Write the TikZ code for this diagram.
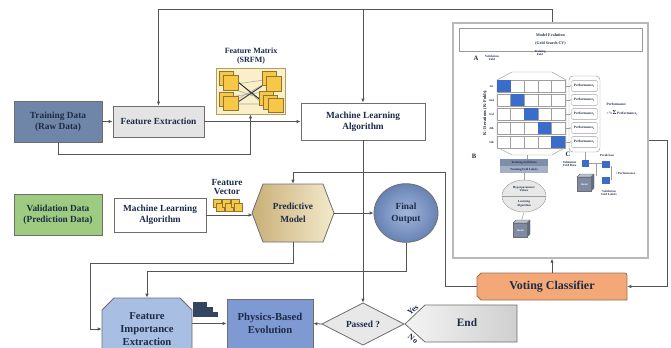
\documentclass[tikz,border=0pt]{standalone}
\usepackage{fontspec}
\setmainfont{Liberation Serif}
\usetikzlibrary{arrows.meta,calc,fit,shapes.geometric}

\definecolor{txt}{HTML}{1E2B47}
\definecolor{ln}{HTML}{555555}
\definecolor{boxedge}{HTML}{6E6E6E}
\definecolor{tdfill}{HTML}{7086A8}
\definecolor{fefill}{HTML}{E4E4E4}
\definecolor{vdfill}{HTML}{9DCB80}
\definecolor{pmdark}{HTML}{C9AF78}
\definecolor{pmlight}{HTML}{F3EACB}
\definecolor{fodark}{HTML}{6782B4}
\definecolor{folight}{HTML}{A2B6DA}
\definecolor{fifill}{HTML}{A8BFE3}
\definecolor{pbfill}{HTML}{7F9AD2}
\definecolor{vcfill}{HTML}{F5A877}
\definecolor{vcedge}{HTML}{9A6E4E}
\definecolor{dmfill}{HTML}{E8E8E8}
\definecolor{endl}{HTML}{F4F4F4}
\definecolor{endr}{HTML}{CFCFCF}
\definecolor{cellblue}{HTML}{3B6CC9}
\definecolor{cardfill}{HTML}{F6C846}
\definecolor{cardedge}{HTML}{8E7632}
\definecolor{fmbg}{HTML}{FBEFC9}
\definecolor{fmedge}{HTML}{B59D5F}
\definecolor{barcol}{HTML}{34465F}
\definecolor{tfdark}{HTML}{7D8DAA}
\definecolor{tflight}{HTML}{A3B0C6}
\definecolor{cubefront}{HTML}{7F8AA3}
\definecolor{cubetop}{HTML}{B8C0CF}
\definecolor{cubeside}{HTML}{5F6A84}

\newcommand{\lblfont}{\bfseries\fontsize{7}{8.4}\selectfont}
\newcommand{\midfont}{\bfseries\fontsize{8}{9.75}\selectfont}
\newcommand{\bigfont}{\bfseries\fontsize{9}{10}\selectfont}
\newcommand{\smfont}{\bfseries\fontsize{6}{6.2}\selectfont}
\newcommand{\tnyfont}{\bfseries\fontsize{2.3}{2.8}\selectfont}
\newcommand{\perffont}{\bfseries\fontsize{2.6}{3}\selectfont}
\newcommand{\secfont}{\bfseries\fontsize{5}{5}\selectfont}
\newcommand{\cubefont}{\bfseries\fontsize{1.9}{2}\selectfont}

% a small shaded cube labelled "Model": x, y (front top-left), size, name
\newcommand{\modelcube}[4]{%
  \draw[draw=boxedge, line width=0.3pt, fill=cubetop] (#1,#2) -- ++(3,-3) -- ++(#3,0) -- ++(-3,3) -- cycle;
  \draw[draw=boxedge, line width=0.3pt, fill=cubeside] ({#1+#3},#2) -- ++(3,-3) -- ++(0,#3) -- ++(-3,3) -- cycle;
  \node[draw=boxedge, line width=0.3pt, fill=cubefront, minimum size={#3*0.75pt}, inner sep=0pt,
        anchor=north west, font=\cubefont, text=white] (#4) at (#1,#2) {Model};
}

\begin{document}
\begin{tikzpicture}[x=0.75pt,y=-0.75pt,
  every node/.style={text=txt},
  conn/.style={draw=ln, line width=0.6pt},
  arr/.style={conn, -{Latex[length=3pt,width=2.6pt]}},
  fine/.style={draw=gray!75, line width=0.35pt},
  finearr/.style={fine, -{Latex[length=1pt,width=1pt]}},
  bx/.style={draw=boxedge, line width=0.6pt, inner sep=0pt},
  tx/.style={align=center, font=\lblfont, inner sep=0pt},
  card/.style={fill=cardfill, draw=cardedge, line width=0.3pt},
]
\useasboundingbox (0,0) rectangle (671,347);
\clip (0,0) rectangle (671,347);
\fill[white] (0,0) rectangle (671,347);

% ---------- upper row ----------
\node[bx, fill=tdfill, fit={(14,101)(102,142)}] (td) {};
\node[tx] (tdT) at (td.center) {Training Data\\(Raw Data)};
\node[bx, fill=fefill, fit={(113,106)(204,137)}] (fe) {};
\node[tx] (feT) at (fe.center) {Feature Extraction};
\node[bx, fill=white, fit={(301,103)(425,140)}] (mla) {};
\node[tx] (mlaT) at (mla.center) {Machine Learning\\Algorithm};

% feature matrix icon
\node[draw=fmedge, fill=fmbg, line width=0.6pt, inner sep=0pt, fit={(216,68)(285,114)}] (fm) {};
\node[font=\smfont, align=center] (fmlabel) at (251,56) {Feature Matrix\\(SRFM)};
\draw[draw=gray!70, line width=0.4pt] (236,80) -- (264,105) (236,84) -- (264,80) (236,100) -- (264,84)
  (236,104) -- (264,104) (236,90) -- (266,100) (236,96) -- (264,92);
\draw[draw=gray!40!black, line width=0.7pt] (238,82) -- (268,106) (238,102) -- (262,86);
\draw[card] (219,71) rectangle (233,85);
\draw[card] (223,75) rectangle (238,90);
\draw[card] (219,92) rectangle (233,106);
\draw[card] (223,96) rectangle (238,110);
\draw[card] (262,71) rectangle (276,85);
\draw[card] (266,76) rectangle (281,91);
\draw[card] (259,91) rectangle (273,105);
\draw[card] (263,95) rectangle (277,109);
\draw[card] (268,98) rectangle (283,112);

% ---------- middle row ----------
\node[bx, fill=vdfill, fit={(14,194)(102,235)}] (vd) {};
\node[tx] (vdT) at (vd.center) {Validation Data\\(Prediction Data)};
\node[bx, fill=white, fit={(114,198)(206,232)}] (mlb) {};
\node[tx] (mlbT) at (mlb.center) {Machine Learning\\Algorithm};

\node[font=\bfseries\fontsize{7}{6.6}\selectfont, align=center] (fvlabel) at (227,187) {Feature\\Vector};
\foreach \k in {0,1,2} {
  \draw[card] ({213+9*\k},199) rectangle ++(8,8);
  \draw[card] ({216+9*\k},203) rectangle ++(8,8);
}

% predictive model (hexagon)
\draw[draw=boxedge, line width=0.6pt, left color=pmdark, right color=pmlight]
  (252,213) -- (263,184) -- (323,184) -- (334,213) -- (323,242) -- (263,242) -- cycle;
\node[fit={(252,184)(334,242)}, inner sep=0pt] (pm) {};
\node[tx, font=\bfseries\fontsize{7}{9.5}\selectfont] (pmT) at (pm.center) {Predictive\\Model};

\node[ellipse, draw=boxedge, line width=0.6pt, inner color=folight, outer color=fodark,
      minimum width=48pt, minimum height=44pt, inner sep=0pt] (fo) at (406,213) {};
\node[tx, font=\bfseries\fontsize{7}{9}\selectfont] (foT) at (fo.center) {Final\\Output};

% ---------- lower row ----------
\draw[draw=boxedge, line width=0.6pt, fill=fifill]
  (102,310) -- (114,298) -- (180,298) -- (192,310) -- (192,350) -- (180,362) -- (114,362) -- (102,350) -- cycle;
\node[fit={(102,298)(192,360)}, inner sep=0pt] (fi) {};
\node[tx, font=\midfont] (fiT) at (fi.center) {Feature\\Importance\\Extraction};

\fill[barcol] (193,302) rectangle (207,306.5);
\fill[barcol] (193,307) rectangle (213,311.5);
\fill[barcol] (193,312) rectangle (218,316.5);

\node[bx, fill=pbfill, fit={(227,299)(313,348)}] (pb) {};
\node[tx, font=\midfont] (pbT) at (pb.center) {Physics-Based\\Evolution};

\draw[draw=boxedge, line width=0.6pt, fill=dmfill] (363,303) -- (404,324) -- (363,345) -- (322,324) -- cycle;
\node[fit={(322,303)(404,345)}, inner sep=0pt] (ps) {};
\node[tx] (psT) at (ps.center) {Passed ?};

\draw[draw=boxedge, line width=0.6pt, left color=endl, right color=endr]
  (405,324) -- (425,305) -- (517,305) -- (517,342) -- (425,342) -- cycle;
\node[fit={(405,305)(517,342)}, inner sep=0pt] (end) {};
\node[tx, font=\bfseries\fontsize{8.5}{9}\selectfont] (endT) at (467,323) {End};
\node[font=\bfseries\fontsize{6}{6}\selectfont, rotate=40, inner sep=0pt] (yes) at (413,310) {Yes};
\node[font=\bfseries\fontsize{6}{6}\selectfont, rotate=-40, inner sep=0pt] (no) at (413,339) {N\kern0.6pt o};

% voting classifier
\draw[draw=vcedge, line width=0.6pt, fill=vcfill]
  (481,273) -- (622,273) .. controls (627,273) .. (627,278) -- (627,300) -- (481,300) -- (477,296) -- (477,277) -- cycle;
\node[fit={(477,273)(627,300)}, inner sep=0pt] (vc) {};
\node[tx, font=\bigfont] (vcT) at (vc.center) {Voting Classifier};

% ---------- model evolution panel ----------
\node[draw=gray!55, line width=1.1pt, fill=white, inner sep=0pt, fit={(453,23)(648,258)}] (me) {};
\node[draw=gray!80, line width=0.4pt, inner sep=0pt, fit={(459,28)(642,51)}] (metitle) {};
\node[font=\bfseries\fontsize{3}{6}\selectfont, align=center] (mettext) at (metitle.center) {Model Evolution\\(Grid Search CV)};

\node[font=\secfont] (secA) at (476,58) {A};
\node[font=\tnyfont, align=center] (vflab) at (492,58) {Validation\\Fold};
\node[font=\tnyfont, align=center] (tflab) at (540,53) {Training\\Fold};

\draw[fine] (512,72) -- (552,72) -- (566,80) -- (566,147) -- (552,155) -- (512,155) -- (497,147) -- (497,80) -- cycle;
\foreach \r in {0,...,4} {
  \foreach \c in {0,...,4} {
    \draw[fine, fill=white] ({497+13.6*\c},{80+14*\r}) rectangle ++(13.6,12);
  }
  \fill[cellblue] ({497+13.6*\r},{80+14*\r}) rectangle ++(13.6,12);
}
\foreach \r/\t in {0/1st,1/2nd,2/3rd,3/4th,4/5th}
  \node[font=\tnyfont] (rowlab\r) at (491.5,{86+14*\r}) {\t};
\node[font=\bfseries\fontsize{3.4}{4}\selectfont, rotate=90] (kit) at (485,113) {K- Iterations (K-Folds)};

\draw[fine, rounded corners=3pt] (569,76) rectangle (600,152);
\foreach \r [evaluate=\r as \n using int(\r+1)] in {0,...,4} {
  \node[fine, draw, rounded corners=1pt, minimum width=19.5pt, minimum height=8.2pt, inner sep=0pt,
        font=\perffont] (perf\r) at (584.5,{86+14*\r}) {Performance\textsubscript{\n}};
  \draw[finearr] (566,{86+14*\r}) -- (perf\r.west);
}
\node[font=\perffont, anchor=west] (perfsum) at (602,104) {Performance};
\node[font=\perffont, anchor=west] (perfeq) at (602,113)
  {=\,\raisebox{0.35ex}{\fontsize{1.7}{1.8}\selectfont 1}\kern-0.05em/\kern-0.05em\raisebox{-0.3ex}{\fontsize{1.7}{1.8}\selectfont 5}\,{\fontsize{4.5}{4.5}\selectfont Σ}\,Performance\textsubscript{i}};

% section B
\node[font=\secfont] (secB) at (474,156) {B};
\node[fill=tfdark, minimum width=36pt, minimum height=5.3pt, inner sep=0pt, font=\tnyfont] (tfd) at (524,162.5) {Training Fold Data};
\node[fill=tflight, minimum width=36pt, minimum height=5.3pt, inner sep=0pt, font=\tnyfont] (tfl) at (524,169.5) {Training Fold Labels};
\draw[fine] (527,155) -- (tfd.north -| 527,0);
\node[ellipse, fine, draw, fill=dmfill, minimum width=33pt, minimum height=24pt, inner sep=0pt] (hyp) at (524,196) {};
\draw[fine] (hyp.west) -- (hyp.east);
\node[font=\tnyfont, align=center] (hyptext) at (524,189) {Hyperparameter\\Values};
\node[font=\tnyfont, align=center] (learntext) at (524,203.5) {Learning\\Algorithm};
\draw[fine] (tfl.south) -- (hyp.north);
\modelcube{513}{223}{14}{cubeB}
\draw[fine] (hyp.south) -- ($(cubeB.north)+(1.5,-3)$);

% section C
\node[font=\secfont] (secC) at (568,154) {C};
\node[font=\tnyfont, align=right, anchor=east] (vfd) at (581,164) {Validation\\Fold Data};
\node[fill=cellblue, minimum size=5.3pt, inner sep=0pt] (vsq) at (585.5,163.5) {};
\coordinate (colbot) at (585.5,152);
\draw[fine] (colbot) -- (vsq.north);
\node[fill=cellblue, minimum size=5.3pt, inner sep=0pt] (psq) at (606,164.5) {};
\node[fill=cellblue, minimum size=5.3pt, inner sep=0pt] (lsq) at (606,180.5) {};
\coordinate (cj) at (596,163.5);
\draw[fine] (vsq.east) -- (cj) -- (psq.west |- cj);
\draw[fine] (cj) -- (596,176);
\draw[fine] (611,166) -- (611,180);
\node[font=\tnyfont, anchor=west] (plusperf) at (611,173) {+ Performance};
\node[font=\tnyfont] (predlab) at (607,155) {Prediction};
\node[font=\tnyfont, align=center] (vfl) at (609,193) {Validation\\Fold Labels};
\modelcube{577}{177}{14}{cubeC}

% ---------- connectors ----------
\coordinate (topy) at (0,9);
\coordinate (vcl) at (445,172);
\coordinate (pml) at (90,263);
\coordinate (fol) at (147,271);
\coordinate (mer) at (667,140);

\draw[arr] (td.east) -- (fe.west);
\draw[arr] (fe.east) -- (mla.west);
\draw[arr] (td.south) -- ++(0,12) -| (fm.south);
\draw[arr] (me.north -| 552,0) |- (topy -| fe.north) -- (fe.north);
\draw[arr] (mla.north |- topy) -- (mla.north);
\draw[arr] (mla.south) -- (ps.north);
\draw[arr] (vc.west) -| (vcl) -| (pm.north);
\draw[arr] (mlb.east) -- (mlb.east -| 252.6,0);
\draw[arr] (pm.east) -- (fo.west);
\draw[arr] (pm.south) |- (pml) |- (fi.west);
\draw[arr] (fo.south) |- (fol) -- (fi.north);
\draw[arr] (fi.east |- pb.west) -- (pb.west);
\draw[arr] (ps.west) -- (pb.east);
\draw[arr] (vc.north) -- (vc.north |- me.south);
\draw[arr] (me.east |- mer) -- (mer) |- (vc.east);
\end{tikzpicture}
\end{document}
